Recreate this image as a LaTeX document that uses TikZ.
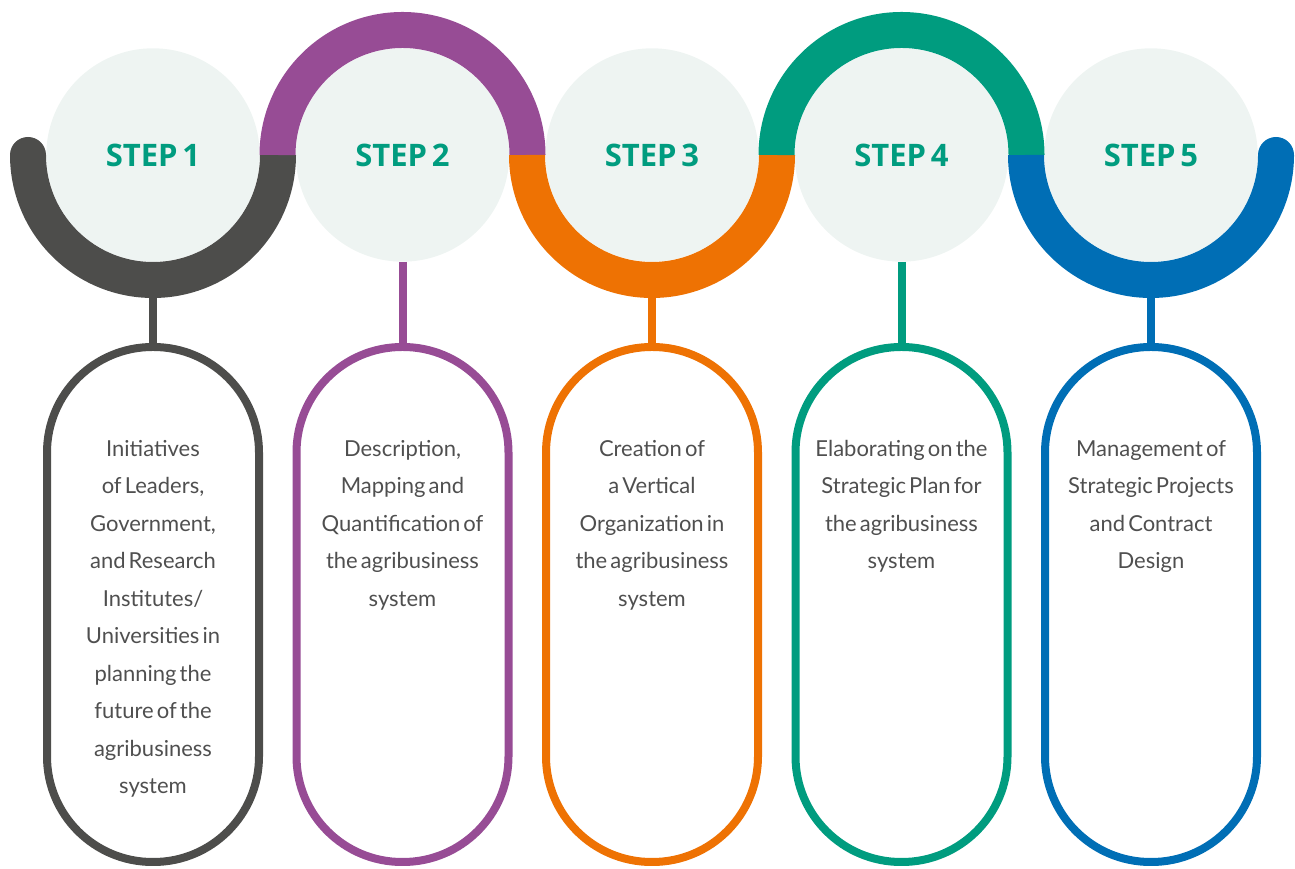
\documentclass[tikz,border=0pt]{standalone}
\usepackage{fontspec}
\usepackage{xcolor,tikz}
\usetikzlibrary{positioning}
\setmainfont{Lato}
\newfontfamily\stepfont{Open Sans}[WordSpace=0.6]
\newfontfamily\descfont{Lato}[WordSpace=0.55]
\definecolor{stepgray}{HTML}{4D4D4B}
\definecolor{steppurple}{HTML}{974C95}
\definecolor{steporange}{HTML}{EE7203}
\definecolor{stepgreen}{HTML}{009C7F}
\definecolor{stepblue}{HTML}{006EB5}
\definecolor{disc}{HTML}{EEF4F2}
\definecolor{bodytext}{HTML}{4F4F4F}

\begin{document}
\begin{tikzpicture}[x=1pt,y=1pt,
disc/.style={circle,fill=disc,minimum size=213.4pt,inner sep=0pt,
  text=stepgreen,font=\stepfont\bfseries\fontsize{31pt}{36pt}\selectfont},
ring/.style={draw=#1,line width=36pt},
pill/.style={draw=#1,line width=8pt,rounded corners=105.5pt,
  minimum width=212pt,minimum height=515pt,inner sep=0pt},
stem/.style={draw=#1,line width=8pt},
desc/.style={align=center,inner sep=0pt,text=bodytext,
  font=\descfont\fontsize{22pt}{37.5pt}\selectfont}]
\useasboundingbox (0,0) rectangle (1295,869);
\node[disc] (c1) at (153,714) {STEP 1};
\node[disc] (c2) at (402.5,714) {STEP 2};
\node[disc] (c3) at (652,714) {STEP 3};
\node[disc] (c4) at (901.5,714) {STEP 4};
\node[disc] (c5) at (1151,714) {STEP 5};
\draw[ring=stepgray] (c1.center) ++(180:125) arc[start angle=180,end angle=360,radius=125];
\draw[ring=steppurple] (c2.center) ++(180:125) arc[start angle=180,end angle=0,radius=125];
\draw[ring=steporange] (c3.center) ++(180:125) arc[start angle=180,end angle=360,radius=125];
\draw[ring=stepgreen] (c4.center) ++(180:125) arc[start angle=180,end angle=0,radius=125];
\draw[ring=stepblue] (c5.center) ++(180:125) arc[start angle=180,end angle=360,radius=125];
\fill[stepgray] (c1.center) ++(-125,0) circle[radius=18];
\fill[stepblue] (c5.center) ++(125,0) circle[radius=18];
\node[pill=stepgray] (p1) at (153,264.5) {};
\node[pill=steppurple] (p2) at (402.5,264.5) {};
\node[pill=steporange] (p3) at (652,264.5) {};
\node[pill=stepgreen] (p4) at (901.5,264.5) {};
\node[pill=stepblue] (p5) at (1151,264.5) {};
\draw[stem=stepgray] (c1)--(p1); \draw[stem=steppurple] (c2)--(p2);
\draw[stem=steporange] (c3)--(p3); \draw[stem=stepgreen] (c4)--(p4);
\draw[stem=stepblue] (c5)--(p5);
\node[desc,below=97pt of p1.north] (t1) {Initiatives\\of Leaders,\\Government,\\and Research\\Institutes/\\Universities in\\planning the\\future of the\\agribusiness\\system};
\node[desc,below=97pt of p2.north] (t2) {Description,\\Mapping and\\Quantification of\\the agribusiness\\system};
\node[desc,below=97pt of p3.north] (t3) {Creation of\\a Vertical\\Organization in\\the agribusiness\\system};
\node[desc,below=97pt of p4.north] (t4) {Elaborating on the\\Strategic Plan for\\the agribusiness\\system};
\node[desc,below=97pt of p5.north] (t5) {Management of\\Strategic Projects\\and Contract\\Design};
\end{tikzpicture}
\end{document}
